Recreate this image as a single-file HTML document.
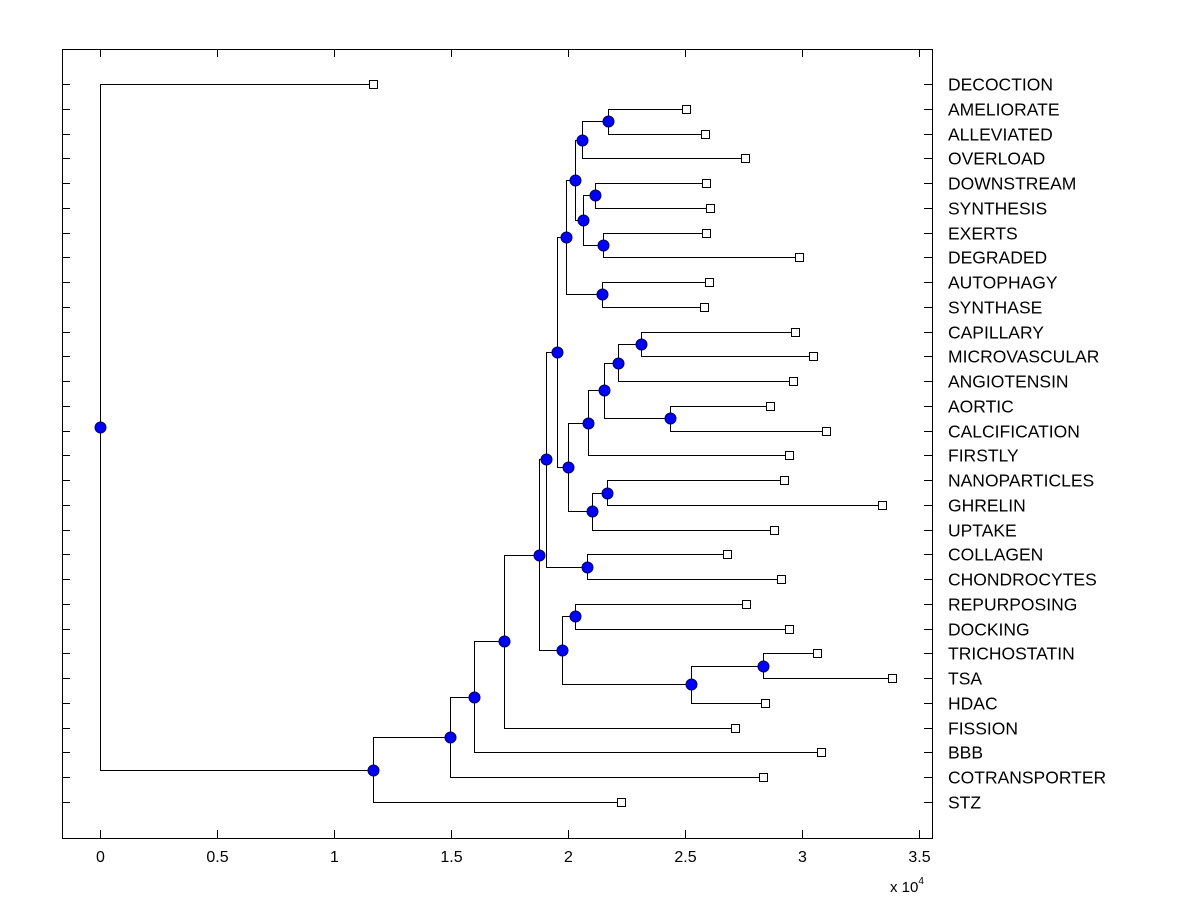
<!DOCTYPE html>
<html><head><meta charset="utf-8"><style>
html,body{margin:0;padding:0;background:#fff;}
svg text{font-family:"Liberation Sans",Arial,sans-serif;}
</style></head><body>
<svg id="chart" width="1200" height="900" xmlns="http://www.w3.org/2000/svg"></svg>
<script>
const leafLabels = ["DECOCTION","AMELIORATE","ALLEVIATED","OVERLOAD","DOWNSTREAM","SYNTHESIS","EXERTS","DEGRADED","AUTOPHAGY","SYNTHASE","CAPILLARY","MICROVASCULAR","ANGIOTENSIN","AORTIC","CALCIFICATION","FIRSTLY","NANOPARTICLES","GHRELIN","UPTAKE","COLLAGEN","CHONDROCYTES","REPURPOSING","DOCKING","TRICHOSTATIN","TSA","HDAC","FISSION","BBB","COTRANSPORTER","STZ"];
const leafValues = [1.167,2.504,2.585,2.756,2.590,2.607,2.590,2.987,2.603,2.581,2.970,3.047,2.962,2.863,3.103,2.944,2.923,3.342,2.880,2.679,2.910,2.761,2.944,3.064,3.385,2.842,2.714,3.081,2.833,2.226];
const nodeNames = ["amel","E","down","ex","F","D","auto","B","cap","J","aor","I","G","nano","H","C","A","coll","upper","rep","trich","tsa","lower","big","fiss","bbb","cot","stz","root"];
const nodeValues = [2.171,2.06,2.115,2.15,2.064,2.03,2.145,1.991,2.312,2.214,2.436,2.154,2.085,2.167,2.103,2.0,1.953,2.081,1.906,2.03,2.833,2.526,1.974,1.876,1.726,1.598,1.496,1.167,0];
const nodeChildren = [["AMELIORATE","ALLEVIATED"],["amel","OVERLOAD"],["DOWNSTREAM","SYNTHESIS"],["EXERTS","DEGRADED"],["down","ex"],["E","F"],["AUTOPHAGY","SYNTHASE"],["D","auto"],["CAPILLARY","MICROVASCULAR"],["cap","ANGIOTENSIN"],["AORTIC","CALCIFICATION"],["J","aor"],["I","FIRSTLY"],["NANOPARTICLES","GHRELIN"],["nano","UPTAKE"],["G","H"],["B","C"],["COLLAGEN","CHONDROCYTES"],["A","coll"],["REPURPOSING","DOCKING"],["TRICHOSTATIN","TSA"],["trich","HDAC"],["rep","tsa"],["upper","lower"],["big","FISSION"],["fiss","BBB"],["bbb","COTRANSPORTER"],["cot","STZ"],["DECOCTION","stz"]];
const xTicks = [0,0.5,1,1.5,2,2.5,3,3.5];
const xTickLabels = ["0","0.5","1","1.5","2","2.5","3","3.5"];

const NS="http://www.w3.org/2000/svg";
const svg=document.getElementById('chart');
const L=62,R=932,T=49,B=838;
const xs=v=>100+v*234;
const ys=i=>84+i*(802-84)/29;
function mk(tag,attrs,parent){const e=document.createElementNS(NS,tag);for(const k in attrs)e.setAttribute(k,attrs[k]);(parent||svg).appendChild(e);return e;}

const axes=mk('g',{});


const frame=mk('rect',{x:L+0.5,y:T+0.5,width:R-L,height:B-T,fill:'none',stroke:'#000','stroke-width':1},axes);


xTicks.forEach((t,i)=>{
  const x=Math.round(xs(t))+0.5;
  mk('line',{x1:x,x2:x,y1:B,y2:B-8,stroke:'#000'},axes);
  mk('line',{x1:x,x2:x,y1:T,y2:T+8,stroke:'#000'},axes);
  const tl=mk('text',{x:x,y:B+24,'font-size':16,'text-anchor':'middle'},axes);
  tl.textContent=xTickLabels[i];
  
  
});
const ex=mk('text',{x:890,y:892,'font-size':15},axes);


ex.innerHTML='x 10<tspan dy="-8" font-size="10">4</tspan>';

const pos={};
leafLabels.forEach((n,i)=>{pos[n]={x:xs(leafValues[i])-4,y:ys(i)};});
function getPos(n){
  if(pos[n])return pos[n];
  const k=nodeNames.indexOf(n);
  const a=getPos(nodeChildren[k][0]),b=getPos(nodeChildren[k][1]);
  pos[n]={x:xs(nodeValues[k]),y:(a.y+b.y)/2};
  return pos[n];
}
nodeNames.forEach(getPos);

const lines=mk('g',{stroke:'#000','stroke-width':1,fill:'none'});


nodeNames.forEach((n,k)=>{
  const p=pos[n];
  const px=Math.round(p.x)+0.5;
  nodeChildren[k].forEach(c=>{
    const q=pos[c];
    const y=Math.round(q.y)+0.5;
    mk('polyline',{points:`${px},${Math.round(p.y)+0.5} ${px},${y} ${Math.round(q.x)+0.5},${y}`},lines);
  });
});

leafLabels.forEach((n,i)=>{
  const y=Math.round(ys(i))+0.5;
  mk('line',{x1:L,x2:L+8,y1:y,y2:y,stroke:'#000'},axes);
  mk('line',{x1:R-8,x2:R,y1:y,y2:y,stroke:'#000'},axes);
  const p=pos[n];
  const sq=mk('rect',{x:Math.round(p.x)+0.5,y:y-4,width:8,height:8,fill:'#fff',stroke:'#000'});
  
  
  const t=mk('text',{x:948,y:y+6,'font-size':17.5});
  t.textContent=n;
  
  
});
nodeNames.forEach(n=>{
  const p=pos[n];
  const c=mk('circle',{cx:Math.round(p.x)+0.5,cy:Math.round(p.y)+0.5,r:5.5,fill:'#0000ff',stroke:'#00006b','stroke-width':1});
  
  
});
</script>
</body></html>
